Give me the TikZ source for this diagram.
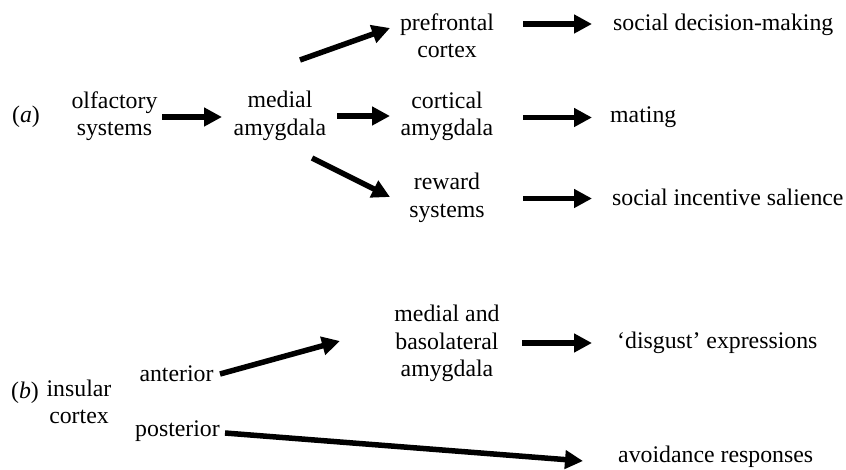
\documentclass[tikz,border=0pt]{standalone}
\usepackage{fontspec}
\setmainfont{Liberation Serif}
\usetikzlibrary{arrows.meta}
\begin{document}
\begin{tikzpicture}[x=1pt,y=-1pt,
  lbl/.style={inner sep=0pt,align=center,font=\fontsize{23.8}{27.5}\selectfont,
    execute at begin node=\strut,execute at end node=\strut},
  arr/.style={line width=5.5pt,-{Triangle[length=18pt,width=18pt]}}]
\useasboundingbox (0,0) rectangle (846,470);
% (a)
\node[lbl] (la) at (26,117) {(\textit{a})};
\node[lbl] (olf) at (114.5,117.5) {olfactory\\systems};
\node[lbl] (med) at (280,117.5) {medial\\amygdala};
\node[lbl] (pref) at (447,39.5) {prefrontal\\cortex};
\node[lbl] (cort) at (447,118) {cortical\\amygdala};
\node[lbl] (rew) at (447,199.5) {reward\\systems};
\node[lbl,anchor=west] (sdm) at (613,25) {social decision-making};
\node[lbl,anchor=west] (mat) at (610,117) {mating};
\node[lbl,anchor=west] (sis) at (612,200) {social incentive salience};
\draw[arr] ([shift={(47.5,-0.5)}]olf.center) -- ([shift={(-58,-0.5)}]med.center);
\draw[arr] ([shift={(57,-1.5)}]med.center) -- ([shift={(-57,-2)}]cort.center);
\draw[arr] ([shift={(20,-57.5)}]med.center) -- ([shift={(-57,-11.5)}]pref.center);
\draw[arr] ([shift={(32,40.5)}]med.center) -- ([shift={(-57,-2.5)}]rew.center);
\draw[arr] ([shift={(76,-15.5)}]pref.center) -- ([shift={(-21,-1)}]sdm.west);
\draw[arr] ([shift={(76,-0.5)}]cort.center) -- ([shift={(-18,0.5)}]mat.west);
\draw[arr] ([shift={(76,-1)}]rew.center) -- ([shift={(-20,-1.5)}]sis.west);
% (b)
\node[lbl] (lb) at (25,393) {(\textit{b})};
\node[lbl] (ins) at (79,406) {insular\\cortex};
\node[lbl] (ant) at (176.5,376) {anterior};
\node[lbl] (post) at (177.5,431) {posterior};
\node[lbl] (mba) at (447,345) {medial and\\basolateral\\amygdala};
\node[lbl,anchor=west] (dis) at (617,343) {`disgust' expressions};
\node[lbl,anchor=west] (avo) at (618,457) {avoidance responses};
\draw[arr] ([shift={(43.5,-2)}]ant.center) -- ([shift={(-107,-4)}]mba.center);
\draw[arr] ([shift={(75,-2)}]mba.center) -- ([shift={(-25,0)}]dis.west);
\draw[arr] ([shift={(47.5,2)}]post.center) -- ([shift={(-35,4)}]avo.west);
\end{tikzpicture}
\end{document}
